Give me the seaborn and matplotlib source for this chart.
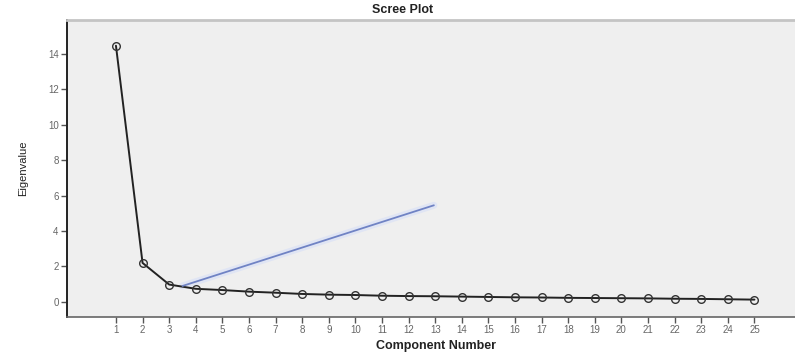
import numpy as np
import pandas as pd
import matplotlib
matplotlib.use("Agg")
import matplotlib.pyplot as plt
import seaborn as sns

# Eigenvalues per principal component
components = list(range(1, 26))
eigenvalues = [14.45, 2.20, 0.98, 0.74, 0.67, 0.58, 0.52, 0.45, 0.41, 0.39,
               0.35, 0.33, 0.32, 0.30, 0.28, 0.26, 0.25, 0.23, 0.22, 0.21,
               0.20, 0.18, 0.17, 0.15, 0.13]
tick_labels = [str(c) for c in components]
y_ticks = [0, 2, 4, 6, 8, 10, 12, 14]

# Elbow pointer line (start, end) in data units
elbow_x = [3.5, 12.95]
elbow_y = [0.9, 5.45]

df = pd.DataFrame({"Component Number": components, "Eigenvalue": eigenvalues})

sns.set_style("white")
plt.rcParams["font.family"] = ["Liberation Sans", "DejaVu Sans"]

fig = plt.figure(figsize=(7.95, 3.56), dpi=100)
ax = fig.add_axes([67 / 795, 1 - 317 / 356, (805 - 67) / 795, (317 - 20) / 356])
ax.set_facecolor("#efefef")

sns.lineplot(data=df, x="Component Number", y="Eigenvalue", ax=ax,
             color="#222222", linewidth=1.4, marker="o", markersize=5.5,
             markerfacecolor="none", markeredgecolor="#333333",
             markeredgewidth=1.0)

# light halo and the pointer line
ax.plot(elbow_x, elbow_y, color="#e0e5f4", linewidth=5, solid_capstyle="round", zorder=1)
ax.plot(elbow_x, elbow_y, color="#7083c4", linewidth=1.3, zorder=3)

ax.set_xlim(-0.84, 26.9)
ax.set_ylim(-0.85, 15.9)
ax.set_xticks(components)
ax.set_xticklabels(tick_labels)
ax.set_yticks(y_ticks)

ax.tick_params(axis="both", labelsize=7, colors="#555555", length=4,
               width=1.0, direction="out", bottom=True, left=True, pad=2)
for lbl in ax.get_xticklabels() + ax.get_yticklabels():
    lbl.set_color("#666666")

for side in ["left", "bottom", "top", "right"]:
    ax.spines[side].set_visible(True)
ax.spines["left"].set_color("#222222")
ax.spines["left"].set_linewidth(1.4)
ax.spines["bottom"].set_color("#666666")
ax.spines["bottom"].set_linewidth(1.2)
ax.spines["top"].set_color("#c4c4c4")
ax.spines["top"].set_linewidth(2.0)
ax.spines["right"].set_visible(False)

ax.set_xlabel("Component Number", fontsize=9, fontweight="bold",
              color="#222222", labelpad=3)
ax.set_ylabel("Eigenvalue", fontsize=8, color="#222222", labelpad=14)

fig.text(403 / 795, 1 - 10 / 356, "Scree Plot", ha="center", va="center",
         fontsize=9, fontweight="bold", color="#222222")

fig.savefig("out.png", dpi=100)
